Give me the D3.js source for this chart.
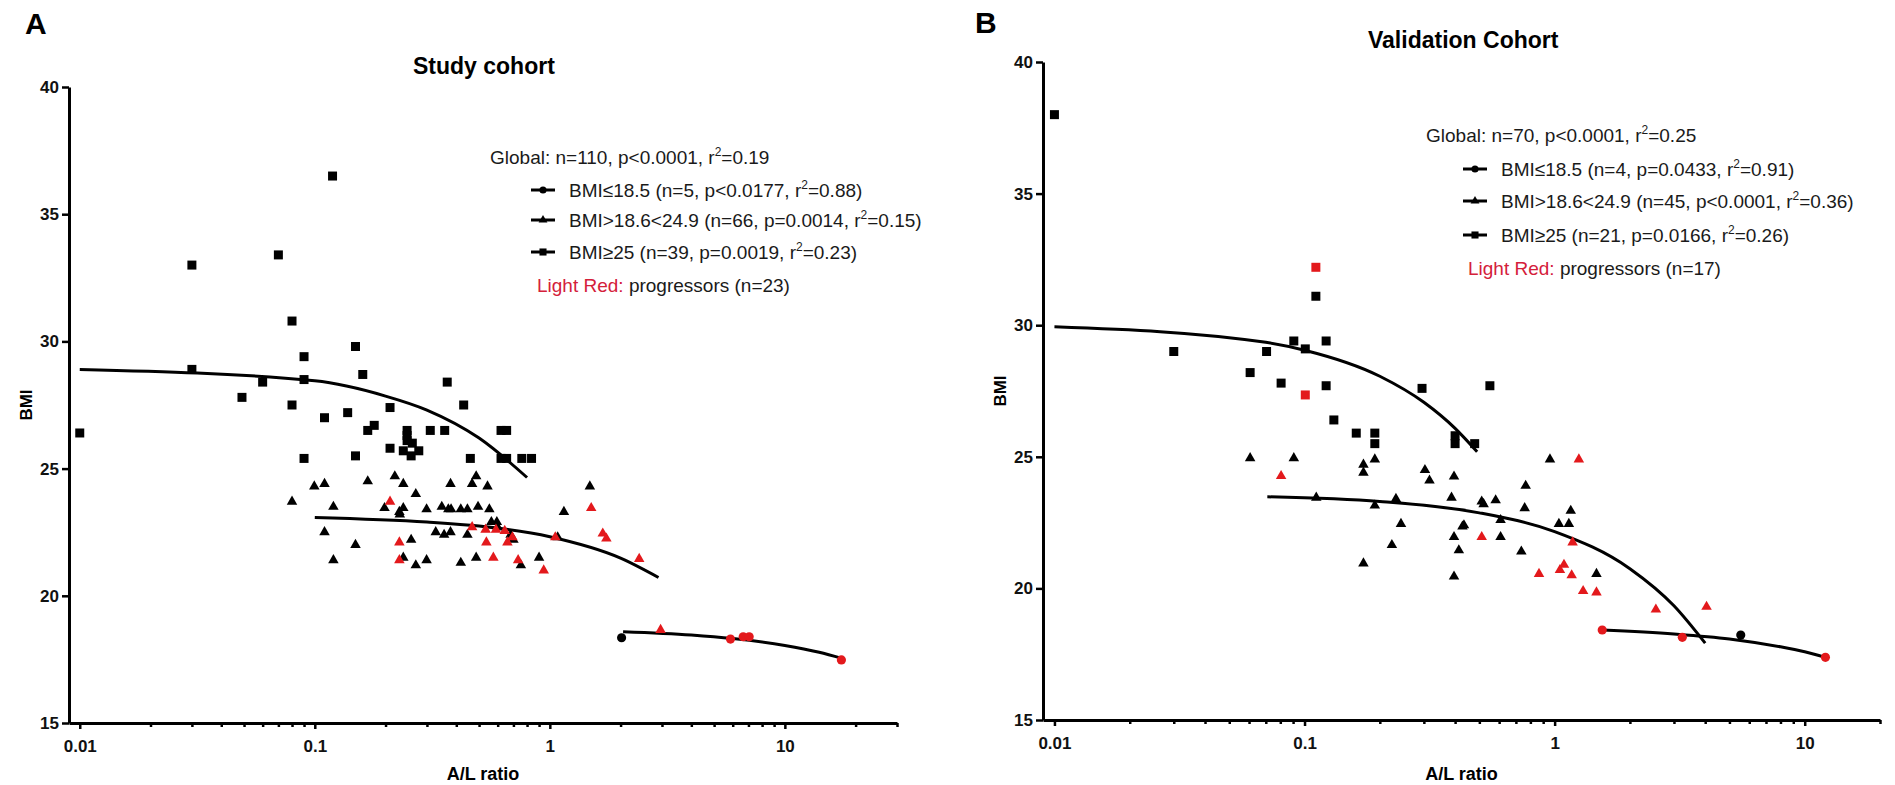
<!DOCTYPE html>
<html>
<head>
<meta charset="utf-8">
<script src="https://cdn.jsdelivr.net/npm/d3@7"></script>
<style>
  body { margin: 0; background: #fff; }
  svg text { font-family: "Liberation Sans", Arial, Helvetica, sans-serif; }
</style>
</head>
<body>
<div id="chart"></div>
<script>
// ---- data ----
var ticksY = [15, 20, 25, 30, 35, 40];
var ticksX = [0.01, 0.1, 1, 10];

// A: Study cohort  [A/L ratio, BMI]
var squaresA = [[0.030, 33.0], [0.030, 28.9], [0.070, 33.4], [0.119, 36.5], [0.080, 30.8], [0.149, 29.8],
  [0.090, 29.4], [0.160, 28.7], [0.060, 28.4], [0.090, 28.5], [0.366, 28.4], [0.010, 26.4], [0.049, 27.8],
  [0.080, 27.5], [0.110, 27.0], [0.138, 27.2], [0.168, 26.5], [0.179, 26.7], [0.090, 25.4], [0.149, 25.5],
  [0.209, 27.4], [0.209, 25.8], [0.247, 26.3], [0.247, 26.1], [0.247, 26.5], [0.238, 25.7], [0.257, 25.5],
  [0.277, 25.7], [0.310, 26.5], [0.357, 26.5], [0.430, 27.5], [0.459, 25.4], [0.620, 26.5], [0.655, 26.5],
  [0.620, 25.4], [0.655, 25.4], [0.760, 25.4], [0.836, 25.4], [0.260, 26.0]];
var squaresRedA = [];
var trianglesA = [[0.080, 23.7], [0.0995, 24.3], [0.110, 24.4], [0.120, 23.5], [0.110, 22.5], [0.120, 21.4],
  [0.149, 22.0], [0.168, 24.5], [0.198, 23.45], [0.219, 24.7], [0.229, 23.3], [0.238, 23.45], [0.238, 24.4],
  [0.269, 24.0], [0.257, 22.2], [0.238, 21.5], [0.269, 21.2], [0.299, 21.4], [0.299, 23.4], [0.347, 23.5],
  [0.370, 23.4], [0.327, 22.5], [0.355, 22.4], [0.378, 22.5], [0.378, 24.4], [0.418, 23.4], [0.446, 23.4],
  [0.467, 24.4], [0.486, 24.7], [0.495, 23.5], [0.418, 21.3], [0.486, 21.5], [0.446, 22.4], [0.543, 24.3],
  [0.553, 23.4], [0.564, 22.9], [0.595, 22.9], [0.681, 22.4], [0.753, 21.2], [0.900, 21.5], [1.148, 23.3],
  [1.48, 24.3], [1.08, 22.3], [0.230, 23.2], [0.600, 22.7], [0.700, 22.2], [0.380, 23.4]];
var trianglesRedA = [[0.209, 23.7], [0.229, 22.1], [0.229, 21.4], [0.467, 22.7], [0.533, 22.6], [0.537, 22.1],
  [0.590, 22.6], [0.575, 21.5], [0.643, 22.55], [0.660, 22.1], [0.693, 22.3], [0.733, 21.4], [0.942, 21.0],
  [1.055, 22.3], [1.50, 23.45], [1.68, 22.45], [1.74, 22.25], [2.40, 21.45], [2.96, 18.66]];
var circlesA = [[2.02, 18.35]];
var circlesRedA = [[5.87, 18.3], [6.65, 18.39], [7.05, 18.39], [17.4, 17.48]];
var fitSquaresA = [[0.01, 28.9], [0.1, 28.45], [0.2, 27.85], [0.3, 27.3], [0.5, 26.2], [0.8, 24.65]];
var fitTrianglesA = [[0.1, 23.08], [0.3, 22.9], [0.5, 22.74], [1, 22.32], [2, 21.48], [2.9, 20.72]];
var fitCirclesA = [[2.05, 18.59], [4, 18.46], [6, 18.32], [10, 18.05], [14, 17.78], [17.5, 17.54]];
var legendA = [["Global: n=110, p<0.0001, r", "=0.19"],
  ["BMI\u226418.5 (n=5, p<0.0177, r", "=0.88)"],
  ["BMI>18.6<24.9 (n=66, p=0.0014, r", "=0.15)"],
  ["BMI\u226525 (n=39, p=0.0019, r", "=0.23)"],
  ["progressors (n=23)"]];

// B: Validation cohort
var squaresB = [[0.010, 38.0], [0.030, 29.0], [0.0705, 29.0], [0.0606, 28.2], [0.0806, 27.8], [0.0906, 29.4],
  [0.1007, 29.1], [0.111, 31.1], [0.122, 29.4], [0.122, 27.7], [0.295, 27.6], [0.131, 26.4], [0.161, 25.9],
  [0.191, 25.9], [0.191, 25.5], [0.400, 25.8], [0.400, 25.5], [0.551, 27.7], [0.479, 25.5]];
var squaresRedB = [[0.111, 32.2], [0.1007, 27.35]];
var trianglesB = [[0.0606, 24.95], [0.0906, 24.95], [0.1114, 23.45], [0.172, 24.7], [0.172, 24.4], [0.191, 24.9],
  [0.191, 23.15], [0.172, 20.95], [0.2235, 21.65], [0.232, 23.4], [0.243, 22.45], [0.303, 24.5], [0.316, 24.1],
  [0.387, 23.45], [0.396, 24.25], [0.396, 21.95], [0.414, 21.45], [0.396, 20.45], [0.428, 22.35], [0.434, 22.4],
  [0.511, 23.3], [0.520, 23.2], [0.581, 23.35], [0.608, 22.6], [0.608, 21.95], [0.736, 21.4], [0.759, 23.05],
  [0.766, 23.9], [0.958, 24.9], [1.04, 22.45], [1.14, 22.45], [1.16, 22.95], [1.47, 20.55]];
var trianglesRedB = [[0.0806, 24.27], [0.511, 21.95], [1.25, 24.9], [1.18, 21.75], [0.866, 20.55], [1.05, 20.7],
  [1.09, 20.9], [1.17, 20.5], [1.30, 19.9], [1.47, 19.85], [2.54, 19.2], [4.05, 19.3]];
var circlesB = [[5.55, 18.23]];
var circlesRedB = [[1.55, 18.42], [3.24, 18.14], [12.1, 17.38]];
var fitSquaresB = [[0.01, 29.94], [0.07, 29.35], [0.1, 29.05], [0.2, 28.06], [0.3, 27.07], [0.4, 26.08], [0.49, 25.19]];
var fitTrianglesB = [[0.071, 23.48], [0.2, 23.3], [0.5, 22.87], [1, 22.16], [2, 20.75], [3, 19.34], [4, 17.92]];
var fitCirclesB = [[1.55, 18.42], [3, 18.27], [5, 18.08], [8, 17.78], [10, 17.59], [12.1, 17.38]];
var legendB = [["Global: n=70, p<0.0001, r", "=0.25"],
  ["BMI\u226418.5 (n=4, p=0.0433, r", "=0.91)"],
  ["BMI>18.6<24.9 (n=45, p<0.0001, r", "=0.36)"],
  ["BMI\u226525 (n=21, p=0.0166, r", "=0.26)"],
  ["progressors (n=17)"]];

var RED = "#e3191c";
var width = 1895, height = 785;

var svg = d3.select("#chart")
  .append("svg")
    .attr("width", width)
    .attr("height", height);

var panels = [
  {letter: "A", title: "Study cohort", xDomain: [0.009, 30], xRange: [69, 897], yRange: [723, 87],
   letterX: 25, letterY: 34, titleX: 413, titleY: 74, bmiX: 26, bmiY: 405,
   legX: 490, legY: [164, 197, 227, 259, 292], legSymX: 543, legTextX: 569, redX: 537,
   squares: squaresA, squaresRed: squaresRedA, triangles: trianglesA, trianglesRed: trianglesRedA,
   circles: circlesA, circlesRed: circlesRedA,
   fits: [fitSquaresA, fitTrianglesA, fitCirclesA], legend: legendA},
  {letter: "B", title: "Validation Cohort", xDomain: [0.009, 20], xRange: [1043, 1880], yRange: [720, 62],
   letterX: 975, letterY: 33, titleX: 1368, titleY: 48, bmiX: 1000, bmiY: 391,
   legX: 1426, legY: [142, 176, 208, 242, 275], legSymX: 1475, legTextX: 1501, redX: 1468,
   squares: squaresB, squaresRed: squaresRedB, triangles: trianglesB, trianglesRed: trianglesRedB,
   circles: circlesB, circlesRed: circlesRedB,
   fits: [fitSquaresB, fitTrianglesB, fitCirclesB], legend: legendB}
];

function drawPanel(p) {
  var x = d3.scaleLog().domain(p.xDomain).range(p.xRange);
  var y = d3.scaleLinear().domain([15, 40]).range(p.yRange);
  var g = svg.append("g");

  // panel letter + title
  g.append("text")
    .attr("x", p.letterX).attr("y", p.letterY)
    .attr("font-size", 30).attr("font-weight", "bold")
    .text(p.letter);
  g.append("text")
    .attr("x", p.titleX).attr("y", p.titleY)
    .attr("font-size", 23).attr("font-weight", "bold")
    .text(p.title);

  // y axis
  var yAxis = g.append("g")
    .attr("transform", "translate(" + p.xRange[0] + ",0)")
    .call(d3.axisLeft(y).tickValues(ticksY).tickSizeInner(7).tickSizeOuter(0).tickPadding(3));

  // minor x ticks
  var minor = x.ticks().filter(function(d) { return d >= 0.01 && ticksX.indexOf(d) < 0; });
  g.append("g")
    .attr("transform", "translate(0," + p.yRange[0] + ")")
    .call(d3.axisBottom(x).tickValues(minor).tickSizeInner(4).tickSizeOuter(0).tickFormat(""))
    .call(function(a) { a.select(".domain").remove(); });

  // major x ticks
  var xAxis = g.append("g")
    .attr("transform", "translate(0," + p.yRange[0] + ")")
    .call(d3.axisBottom(x).tickValues(ticksX).tickSizeInner(6).tickSizeOuter(0).tickPadding(11)
      .tickFormat(function(d) { return d3.format("~g")(d); }));

  g.selectAll(".domain").attr("stroke", "#000").attr("stroke-width", 3);
  g.selectAll(".tick line").attr("stroke", "#000").attr("stroke-width", 2.5);
  g.selectAll(".tick text")
    .attr("font-family", "'Liberation Sans', Arial, sans-serif")
    .attr("font-size", 17).attr("font-weight", "bold").attr("fill", "#111");

  // axis labels
  g.append("text")
    .attr("x", (p.xRange[0] + p.xRange[1]) / 2).attr("y", 780)
    .attr("text-anchor", "middle")
    .attr("font-size", 18).attr("font-weight", "bold")
    .text("A/L ratio");
  g.append("text")
    .attr("transform", "translate(" + p.bmiX + "," + p.bmiY + ") rotate(-90)")
    .attr("text-anchor", "middle").attr("dy", "0.35em")
    .attr("font-size", 17).attr("font-weight", "bold")
    .text("BMI");

  // fit lines
  var line = d3.line()
    .x(function(d) { return x(d[0]); })
    .y(function(d) { return y(d[1]); })
    .curve(d3.curveMonotoneX);
  g.selectAll(".fit")
    .data(p.fits)
    .enter()
    .append("path")
      .attr("class", "fit")
      .attr("d", line)
      .attr("fill", "none")
      .attr("stroke", "#000")
      .attr("stroke-width", 3);

  // points
  function dots(data, type, size, color) {
    g.append("g")
      .selectAll("path")
      .data(data)
      .enter()
      .append("path")
        .attr("d", d3.symbol().type(type).size(size))
        .attr("transform", function(d) { return "translate(" + x(d[0]) + "," + y(d[1]) + ")"; })
        .attr("fill", color);
  }
  dots(p.squares, d3.symbolSquare, 81, "#000");
  dots(p.squaresRed, d3.symbolSquare, 81, RED);
  dots(p.triangles, d3.symbolTriangle, 48, "#000");
  dots(p.trianglesRed, d3.symbolTriangle, 48, RED);
  dots(p.circles, d3.symbolCircle, 66, "#000");
  dots(p.circlesRed, d3.symbolCircle, 66, RED);

  // legend
  var leg = g.append("g").attr("font-size", 19).attr("fill", "#1a1a1a");
  function legText(tx, ty, parts) {
    var t = leg.append("text").attr("x", tx).attr("y", ty);
    t.append("tspan").text(parts[0]);
    t.append("tspan").attr("font-size", 12).attr("dy", -8).text("2");
    t.append("tspan").attr("dy", 8).text(parts[1]);
  }
  legText(p.legX, p.legY[0], p.legend[0]);
  var symTypes = [d3.symbolCircle, d3.symbolTriangle, d3.symbolSquare];
  var symSizes = [40, 34, 50];
  for (var i = 0; i < 3; i++) {
    var cy = p.legY[i + 1] - 7;
    leg.append("line")
      .attr("x1", p.legSymX - 12).attr("x2", p.legSymX + 12)
      .attr("y1", cy).attr("y2", cy)
      .attr("stroke", "#000").attr("stroke-width", 3);
    leg.append("path")
      .attr("d", d3.symbol().type(symTypes[i]).size(symSizes[i]))
      .attr("transform", "translate(" + p.legSymX + "," + cy + ")")
      .attr("fill", "#000");
    legText(p.legTextX, p.legY[i + 1], p.legend[i + 1]);
  }
  var last = leg.append("text").attr("x", p.redX).attr("y", p.legY[4]);
  last.append("tspan").attr("fill", "#d4203a").text("Light Red:");
  last.append("tspan").text(" " + p.legend[4][0]);
}

panels.forEach(drawPanel);
</script>
</body>
</html>
